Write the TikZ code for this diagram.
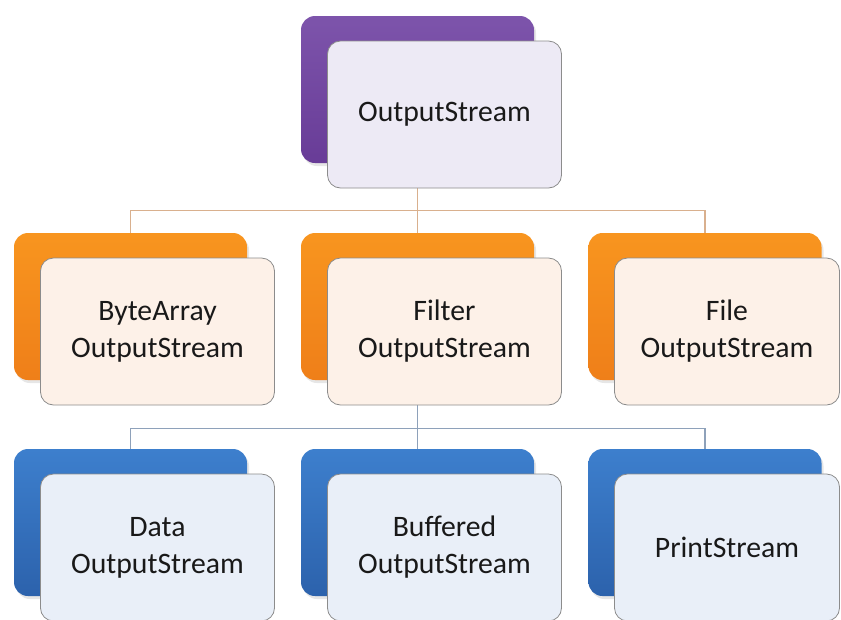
\documentclass[tikz,border=0pt]{standalone}
\usepackage{fontspec}
\setmainfont{Carlito}
\usetikzlibrary{positioning,shadows,backgrounds}

\definecolor{purpletop}{HTML}{7D54AB}
\definecolor{purplebot}{HTML}{683C97}
\definecolor{purplefront}{HTML}{EDEAF5}
\definecolor{orangetop}{HTML}{F8951F}
\definecolor{orangebot}{HTML}{EF7F19}
\definecolor{orangefront}{HTML}{FDF1E8}
\definecolor{bluetop}{HTML}{3D7FCD}
\definecolor{bluebot}{HTML}{2C62AC}
\definecolor{bluefront}{HTML}{E9EFF8}
\definecolor{orangelinkcol}{HTML}{D9B08E}
\definecolor{bluelinkcol}{HTML}{8EA1BA}

\tikzset{
  backbox/.style={rounded corners=14pt, minimum width=233pt, minimum height=147pt, inner sep=0pt,
    drop shadow={opacity=0.2, shadow xshift=2pt, shadow yshift=-3pt}},
  frontbox/.style={draw=black!45, line width=0.8pt, rounded corners=13pt, minimum width=234pt,
    minimum height=147pt, inner sep=0pt, align=center, text=black!90,
    font=\fontsize{29.7}{37}\selectfont},
  narrow/.style={minimum width=225pt},
  purpleback/.style={backbox, top color=purpletop, bottom color=purplebot},
  orangeback/.style={backbox, top color=orangetop, bottom color=orangebot},
  blueback/.style={backbox, top color=bluetop, bottom color=bluebot},
  purplefront/.style={frontbox, fill=purplefront},
  orangefront/.style={frontbox, fill=orangefront},
  bluefront/.style={frontbox, fill=bluefront},
  orangelink/.style={draw=orangelinkcol, line width=1.4pt},
  bluelink/.style={draw=bluelinkcol, line width=1.4pt}
}

\begin{document}
\begin{tikzpicture}[x=1pt, y=-1pt]
    \useasboundingbox (0,0) rectangle (841,619);

    % Root
    \node[purpleback] (out-back) at (417.5,89.5) {};
    \node[purplefront] (out) at ([shift={(27,25)}]out-back.center) {OutputStream};

    % Second row
    \node[orangeback] (bytearr-back) at (130.5,306.5) {};
    \node[orangefront] (bytearr) at ([shift={(27,25)}]bytearr-back.center) {ByteArray\\OutputStream};
    \node[orangeback] (filter-back) at (417.5,306.5) {};
    \node[orangefront] (filter) at ([shift={(27,25)}]filter-back.center) {Filter\\OutputStream};
    \node[orangeback] (file-back) at (705,306.5) {};
    \node[orangefront, narrow] (file) at ([shift={(22,25)}]file-back.center) {File\\OutputStream};

    % Third row
    \node[blueback] (data-back) at (130.5,522.5) {};
    \node[bluefront] (data) at ([shift={(27,25)}]data-back.center) {Data\\OutputStream};
    \node[blueback] (buffered-back) at (417.5,522.5) {};
    \node[bluefront] (buffered) at ([shift={(27,25)}]buffered-back.center) {Buffered\\OutputStream};
    \node[blueback] (print-back) at (705,522.5) {};
    \node[bluefront, narrow] (print) at ([shift={(22,25)}]print-back.center) {PrintStream};

    % Lines
    \begin{scope}[on background layer]
      \draw[orangelink] (out-back.south) -- ++(0,47) -| (bytearr-back.north);
      \draw[orangelink] (out-back.south) -- (filter-back.north);
      \draw[orangelink] (out-back.south) -- ++(0,47) -| (file-back.north);
      \draw[bluelink] (filter-back.south) -- ++(0,48) -| (data-back.north);
      \draw[bluelink] (filter-back.south) -- (buffered-back.north);
      \draw[bluelink] (filter-back.south) -- ++(0,48) -| (print-back.north);
    \end{scope}
\end{tikzpicture}
\end{document}
